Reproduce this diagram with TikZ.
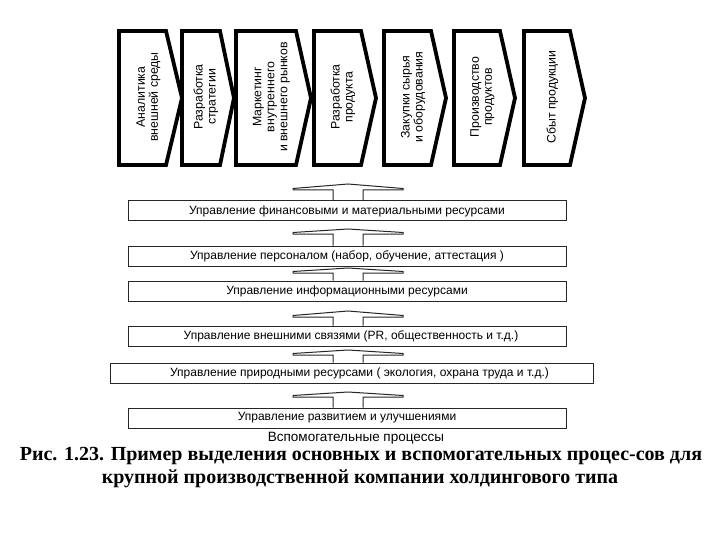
\documentclass[tikz,border=0pt]{standalone}
\usepackage{fontspec}
\setmainfont{Liberation Serif}
\newfontfamily\arialf{Liberation Sans}
\usetikzlibrary{calc}
\tikzset{
  chev/.style={draw=black, line width=3.8pt, line join=miter, fill=white},
  boxtext/.style={rotate=90, align=center, inner sep=0pt, font=\arialf\fontsize{12.3}{13}\selectfont},
  bar/.style={draw=black!85, line width=1pt, minimum height=20pt, inner sep=0pt, font=\arialf\fontsize{12}{13}\selectfont},
  arr/.style={draw=black!85, line width=1pt, line join=miter},
  captext/.style={font=\bfseries\fontsize{20}{23}\selectfont, inner sep=0pt}
}
\newcommand\blockup[3]{%
  \draw[arr] (333,0 |- #1.north) -- (333,#3) -- (293,#3) -- (293,{#3-1.5}) -- (348,#2) -- (403,{#3-1.5}) -- (403,#3) -- (363,#3) -- (363,0 |- #1.north);
}
\begin{document}
\begin{tikzpicture}[x=1pt,y=-1pt]
\useasboundingbox[fill=white] (0,0) rectangle (720,540);
% main process chevrons
\foreach \n/\l/\r/\t/\txt in {
  1/119/166/182/{Аналитика\\внешней среды},
  2/182/220/234/{Разработка\\стратегии},
  3/236/296/311/{Маркетинг\\внутреннего\\и внешнего рынков},
  4/314/361/376/{Разработка\\продукта},
  5/384/431/446/{Закупки сырья\\и оборудования},
  6/454/500/515/{Производство\\продуктов},
  7/524/570/585/{Сбыт продукции}}{
  \draw[chev] (\l,31) -- (\r,31) -- (\t,98) -- (\r,165) -- (\l,165) -- cycle;
  \node[boxtext] (c\n) at ({(\l+\t)/2-2},97) {\txt};
}
% support process bars
\node[bar, minimum width=438pt] (b1) at (347,211) {\raisebox{-1.5pt}{Управление финансовыми и материальными ресурсами}};
\node[bar, minimum width=438pt] (b2) at (347,256) {\raisebox{-1.5pt}{Управление персоналом (набор, обучение, аттестация )}};
\node[bar, minimum width=438pt] (b3) at (347,291) {\raisebox{-1.5pt}{Управление информационными ресурсами}};
\node[bar, minimum width=438pt] (b4) at (347,336) {\raisebox{-1.5pt}{\hspace*{8pt}Управление внешними связями (PR, общественность и т.д.)}};
\node[bar, minimum width=483pt] (b5) at (351.5,373) {\raisebox{-1.5pt}{\hspace*{16pt}Управление природными ресурсами ( экология, охрана труда и т.д.)}};
\node[bar, minimum width=438pt] (b6) at (347,418) {\raisebox{-1.5pt}{Управление развитием и улучшениями}};
% block arrows
\blockup{b1}{184}{190}
\blockup{b2}{229}{234}
\blockup{b3}{268}{273}
\blockup{b4}{311}{317}
\blockup{b5}{350}{355}
\blockup{b6}{392}{397}
\node[inner sep=0pt, font=\arialf\fontsize{13.5}{15}\selectfont] (lbl) at (356,438) {Вспомогательные процессы};
% caption
\node[captext] (cap1) at (361,456) {Рис. 1.23. Пример выделения основных и вспомогательных процес-сов для};
\node[captext] (cap2) at (360,479) {крупной производственной компании холдингового типа};
\end{tikzpicture}
\end{document}
